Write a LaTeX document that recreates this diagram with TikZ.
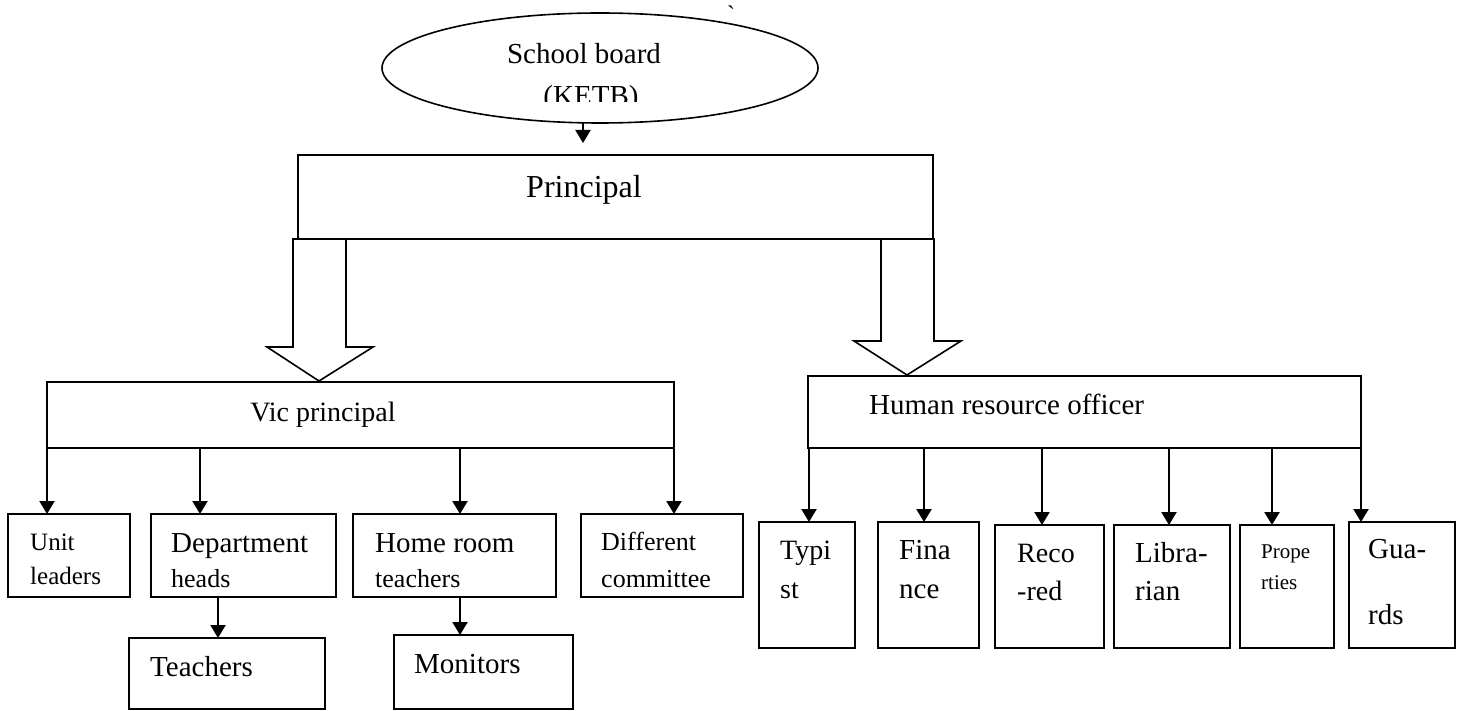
\documentclass[tikz,border=0pt]{standalone}
\usepackage{fontspec}
\setmainfont{Liberation Serif}
\usetikzlibrary{arrows.meta,fit,shapes.geometric}

\begin{document}
\begin{tikzpicture}[x=1pt, y=-1pt,
  box/.style={draw, line width=1.6pt, inner sep=0pt, outer sep=0pt},
  lbl/.style={anchor=base west, inner sep=0pt, font=\fontsize{#1}{#1}\selectfont},
  lbl/.default=28,
  conn/.style={line width=2.2pt, -{Triangle[length=13pt, width=15pt]}},
  bigarrow/.style={line width=1.6pt, fill=white, line join=miter}]
\useasboundingbox (0,0) rectangle (1462,711);

\node[ellipse, draw, line width=1.6pt, minimum width=436pt, minimum height=110pt,
      inner sep=0pt, outer sep=0pt] (board) at (600,68) {};
\node[lbl=29, anchor=base] (board-l1) at (584,64) {School board};
\begin{scope}
  \clip (380,0) rectangle (820,102);
  \node[lbl=29, anchor=base] (board-l2) at (591,106) {(KETB)};
\end{scope}
\node[inner sep=0pt, font=\fontsize{24}{24}\selectfont] (tick) at (731,14) {\textasciigrave};

\node[box, fit={(298,155) (933,239)}] (principal) {};
\node[lbl=32, anchor=base] (principal-l) at (584,198) {Principal};
\coordinate (board-out) at (583,143);
\draw[conn] (board.south -| board-out) -- (board-out);

\node[box, fit={(47,382) (674,448)}] (vic) {};
\node[lbl, anchor=base] (vic-l) at (323,421) {Vic principal};
\node[box, fit={(808,376) (1361,448)}] (hr) {};
\node[lbl=29] (hr-l) at (869,414) {Human resource officer};

\draw[bigarrow] (293,239) -- (346,239) -- (346,347) -- (373,347) -- (319,381)
  -- (267,347) -- (293,347) -- cycle;
\draw[bigarrow] (881,239) -- (934,239) -- (934,341) -- (961,341) -- (907,375)
  -- (854,341) -- (881,341) -- cycle;

\node[box, fit={(8,514) (130,597)}] (unit) {};
\node[box, fit={(151,514) (336,597)}] (dept) {};
\node[box, fit={(353,514) (556,597)}] (home) {};
\node[box, fit={(581,514) (743,597)}] (diff) {};
\node[box, fit={(129,638) (325,709)}] (teachers) {};
\node[box, fit={(394,635) (573,709)}] (monitors) {};

\node[box, fit={(759,522) (855,648)}] (typist) {};
\node[box, fit={(878,522) (979,648)}] (finance) {};
\node[box, fit={(995,525) (1104,648)}] (record) {};
\node[box, fit={(1114,525) (1230,648)}] (librarian) {};
\node[box, fit={(1240,525) (1334,648)}] (properties) {};
\node[box, fit={(1349,522) (1455,648)}] (guards) {};

\foreach \n/\d in {unit/39, dept/49, home/107, diff/93} {
  \coordinate (\n-in) at ([xshift=\d pt]\n.north west);
  \draw[conn] (vic.south -| \n-in) -- (\n-in);
}
\foreach \n/\d in {typist/50, finance/46, record/47, librarian/55, properties/32, guards/12} {
  \coordinate (\n-in) at ([xshift=\d pt]\n.north west);
  \draw[conn] (hr.south -| \n-in) -- (\n-in);
}
\coordinate (teachers-in) at ([xshift=89pt]teachers.north west);
\draw[conn] (dept.south -| teachers-in) -- (teachers-in);
\coordinate (monitors-in) at ([xshift=66pt]monitors.north west);
\draw[conn] (home.south -| monitors-in) -- (monitors-in);

\node[lbl=25] (unit-l1) at (30,550) {Unit};
\node[lbl=25] (unit-l2) at (30,584) {leaders};
\node[lbl=29] (dept-l1) at (171,552) {Department};
\node[lbl=26] (dept-l2) at (171,587) {heads};
\node[lbl=29] (home-l1) at (375,552) {Home room};
\node[lbl=26] (home-l2) at (375,587) {teachers};
\node[lbl=26] (diff-l1) at (601,550) {Different};
\node[lbl=26] (diff-l2) at (601,587) {committee};
\node[lbl=29] (teachers-l) at (150,676) {Teachers};
\node[lbl=29] (monitors-l) at (414,673) {Monitors};

\node[lbl] (typist-l1) at (780,559) {Typi};
\node[lbl] (typist-l2) at (780,598) {st};
\node[lbl=29] (finance-l1) at (899,559) {Fina};
\node[lbl=29] (finance-l2) at (899,598) {nce};
\node[lbl] (record-l1) at (1017,562) {Reco};
\node[lbl] (record-l2) at (1017,600) {-red};
\node[lbl=29] (librarian-l1) at (1135,562) {Libra-};
\node[lbl=29] (librarian-l2) at (1135,600) {rian};
\node[lbl=21] (properties-l1) at (1261,558) {Prope};
\node[lbl=21] (properties-l2) at (1261,589) {rties};
\node[lbl=29] (guards-l1) at (1368,558) {Gua-};
\node[lbl=29] (guards-l2) at (1368,624) {rds};
\end{tikzpicture}
\end{document}
